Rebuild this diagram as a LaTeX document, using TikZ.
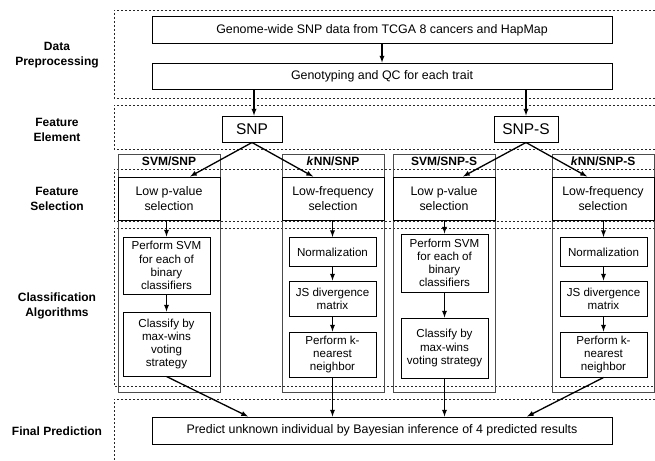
\documentclass[tikz,border=0pt]{standalone}
\usepackage{fontspec}
\setmainfont{Liberation Sans}
\usetikzlibrary{arrows}

\tikzset{
  stage/.style={draw=black!85, line width=0.8pt, dash pattern=on 2.4pt off 1.6pt},
  box/.style={draw, line width=1pt, align=center, inner sep=1pt, font=\fontsize{12.4}{14.5}\selectfont},
  small/.style={font=\fontsize{11.6}{13.2}\selectfont},
  frame/.style={draw=black!70, line width=0.6pt, inner sep=0pt},
  lab/.style={align=center, font=\fontsize{12}{15}\selectfont\bfseries},
  flow/.style={-latex, line width=1.3pt},
}

\begin{document}
\begin{tikzpicture}[x=1pt,y=-1pt]
  \useasboundingbox (0,0) rectangle (655,460);
  \def\w{87} % inner box width
  \def\cw{102} % column width

  % stages
  \draw[stage] (655,10) -| (114,98) -- (655,98);
  \draw[stage] (655,105) -| (114,149) -- (655,149);
  \draw[stage] (655,169) -| (114,221) -- (655,221);
  \draw[stage] (655,228) -| (114,386) -- (655,386);
  \draw[stage] (655,399) -| (114,461);

  \node[lab] (lpre) at (57,55) {Data\\Preprocessing};
  \node[lab] (lelem) at (57,129.5) {Feature\\Element};
  \node[lab] (lsel) at (57,199) {Feature\\Selection};
  \node[lab] (lalg) at (57,306) {Classification\\Algorithms};
  \node[lab] (lfin) at (57,431) {Final Prediction};

  \node[box, minimum width=460, minimum height=27] (gen) at (382,30.5) {Genome-wide SNP data from TCGA 8 cancers and HapMap};
  \node[box, minimum width=460, minimum height=26] (geno) at (382,76) {Genotyping and QC for each trait};
  \node[box, minimum width=60, minimum height=26, font=\fontsize{15.5}{17}\selectfont] (snp) at (252,129) {SNP};
  \node[box, minimum width=64, minimum height=26, font=\fontsize{15.5}{17}\selectfont] (snps) at (526,129) {SNP-S};

  \foreach \cx/\i/\head/\sel in {169/1/{SVM/SNP}/{Low p-value\\selection},
      333/2/{\textit{k}NN/SNP}/{Low-frequency\\selection},
      444/3/{SVM/SNP-S}/{Low p-value\\selection},
      603/4/{\textit{k}NN/SNP-S}/{Low-frequency\\selection}}{
    \node[frame, minimum width=\cw, minimum height=238] (fr\i) at (\cx,273) {};
    \node[lab] (hd\i) at (\cx,161.5) {\head};
    \node[box, minimum width=\cw, minimum height=43] (sel\i) at (\cx,198.5) {\sel};
  }

  \node[box, small, minimum width=\w, minimum height=57] (svm1) at (166.5,265.5) {Perform SVM\\for each of\\binary\\classifiers};
  \node[box, small, minimum width=\w, minimum height=64] (vote1) at (166.5,344) {Classify by\\max-wins\\voting\\strategy};
  \node[box, small, minimum width=\w, minimum height=58] (svm3) at (444.5,263) {Perform SVM\\for each of\\binary\\classifiers};
  \node[box, small, minimum width=\w, minimum height=60] (vote3) at (444.5,348) {Classify by\\max-wins\\voting strategy};

  \foreach \cx/\i in {332.5/2, 603.5/4}{
    \node[box, small, minimum width=\w, minimum height=29] (norm\i) at (\cx,252) {Normalization};
    \node[box, small, minimum width=\w, minimum height=35] (js\i) at (\cx,298.5) {JS divergence\\matrix};
    \node[box, small, minimum width=\w, minimum height=45] (knn\i) at (\cx,354.5) {Perform k-\\nearest\\neighbor};
  }

  \node[box, minimum width=460, minimum height=27] (fin) at (382,430.5) {Predict unknown individual by Bayesian inference of 4 predicted results};

  \draw[flow] (gen) -- (geno);
  \draw[flow] ([xshift=2pt]snp.north |- geno.south) -- ([xshift=2pt]snp.north);
  \draw[flow] (snps |- geno.south) -- (snps);
  \draw[flow] (snp.south) -- ([xshift=21pt]sel1.north);
  \draw[flow] (snp.south) -- ([xshift=-20pt]sel2.north);
  \draw[flow] (snps.south) -- ([xshift=19pt]sel3.north);
  \draw[flow] (snps.south) -- ([xshift=-16pt]sel4.north);

  \draw[flow] (sel1.south -| svm1) -- (svm1);
  \draw[flow] (svm1) -- (vote1);
  \draw[flow] (sel3.south -| svm3) -- (svm3);
  \draw[flow] (svm3) -- (vote3);
  \foreach \i in {2,4}{
    \draw[flow] (sel\i.south -| norm\i) -- (norm\i);
    \draw[flow] (norm\i) -- (js\i);
    \draw[flow] (js\i) -- (knn\i);
  }

  \draw[flow] (vote1.south) -- ([xshift=-134pt]fin.north);
  \draw[flow] (knn2.south) -- (knn2.south |- fin.north);
  \draw[flow] (vote3.south) -- (vote3.south |- fin.north);
  \draw[flow] (knn4.south) -- ([xshift=145pt]fin.north);
\end{tikzpicture}
\end{document}
